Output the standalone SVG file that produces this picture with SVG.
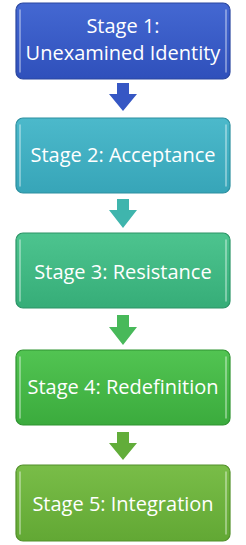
<svg xmlns="http://www.w3.org/2000/svg" width="246" height="545" viewBox="0 0 246 545">
<style>
.lbl{font-family:"Open Sans","Noto Sans","Liberation Sans",sans-serif;font-size:20px;fill:#ffffff;text-anchor:middle}
.box{stroke-width:1.2}
.hl{fill:none;stroke:#ffffff;stroke-opacity:0.45;stroke-width:1.6;stroke-linecap:round}
</style>
<defs>
<linearGradient id="g1" x1="0" y1="0" x2="0" y2="1"><stop offset="0" stop-color="#4468d2"/><stop offset="1" stop-color="#2f50bb"/></linearGradient>
<linearGradient id="g2" x1="0" y1="0" x2="0" y2="1"><stop offset="0" stop-color="#4cb9cb"/><stop offset="1" stop-color="#37a5b8"/></linearGradient>
<linearGradient id="g3" x1="0" y1="0" x2="0" y2="1"><stop offset="0" stop-color="#4dc48f"/><stop offset="1" stop-color="#36ad78"/></linearGradient>
<linearGradient id="g4" x1="0" y1="0" x2="0" y2="1"><stop offset="0" stop-color="#52c452"/><stop offset="1" stop-color="#3bab3d"/></linearGradient>
<linearGradient id="g5" x1="0" y1="0" x2="0" y2="1"><stop offset="0" stop-color="#79bd48"/><stop offset="1" stop-color="#62a834"/></linearGradient>
</defs>
<g id="connectors">
<path d="M117,83 H129 V94 H137 L123,111 L109,94 H117 Z" fill="#3657c4"/>
<path d="M117,199 H129 V210 H137 L123,228 L109,210 H117 Z" fill="#3fb5ad"/>
<path d="M117,315 H129 V327 H137 L123,345 L109,327 H117 Z" fill="#48b95a"/>
<path d="M117,432 H129 V443 H137 L123,460 L109,443 H117 Z" fill="#62ad3a"/>
</g>
<g id="stage1">
<rect class="box" x="16" y="3" width="214" height="76" rx="7" fill="url(#g1)" stroke="#2b479f"/>
<path class="hl" d="M20,10 V72 M226,10 V72"/>
<text class="lbl" x="123" y="33">Stage 1:</text>
<text class="lbl" x="123" y="60">Unexamined Identity</text>
</g>
<g id="stage2">
<rect class="box" x="16" y="118" width="214" height="75" rx="7" fill="url(#g2)" stroke="#2d8f9f"/>
<path class="hl" d="M20,125 V186 M226,125 V186"/>
<text class="lbl" x="123" y="162">Stage 2: Acceptance</text>
</g>
<g id="stage3">
<rect class="box" x="16" y="233" width="214" height="75" rx="7" fill="url(#g3)" stroke="#2c9467"/>
<path class="hl" d="M20,240 V301 M226,240 V301"/>
<text class="lbl" x="123" y="279">Stage 3: Resistance</text>
</g>
<g id="stage4">
<rect class="box" x="16" y="350" width="214" height="75" rx="7" fill="url(#g4)" stroke="#2f9331"/>
<path class="hl" d="M20,357 V418 M226,357 V418"/>
<text class="lbl" x="123" y="394">Stage 4: Redefinition</text>
</g>
<g id="stage5">
<rect class="box" x="16" y="465" width="214" height="76" rx="7" fill="url(#g5)" stroke="#53902b"/>
<path class="hl" d="M20,472 V534 M226,472 V534"/>
<text class="lbl" x="123" y="511">Stage 5: Integration</text>
</g>
</svg>
